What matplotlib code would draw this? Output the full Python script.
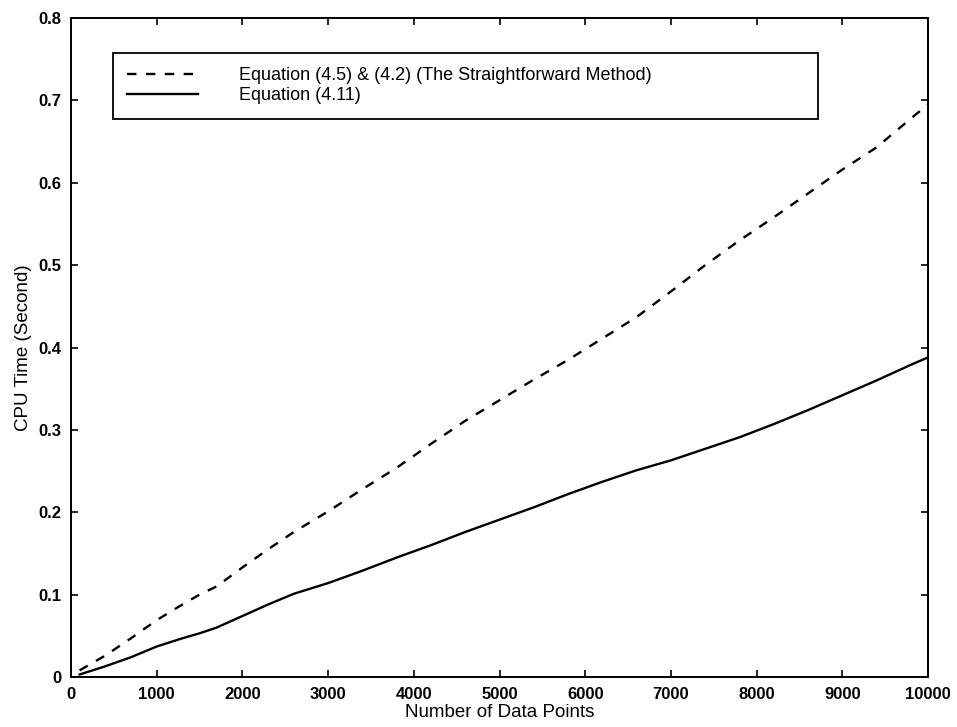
import numpy as np
import matplotlib
matplotlib.use('Agg')
import matplotlib.pyplot as plt

plt.rcParams['font.family'] = ['Liberation Sans', 'DejaVu Sans']

# number of data points used in each timing run
n_points = [100, 400, 700, 1000, 1300, 1500, 1700, 2000, 2300, 2600, 3000,
            3400, 3800, 4200, 4600, 5000, 5400, 5800, 6200, 6600, 7000,
            7400, 7800, 8200, 8600, 9000, 9400, 9800, 10000]

# CPU time (s), straightforward method, eq (4.5) & (4.2)
t_straight = [0.008, 0.026, 0.047, 0.069, 0.088, 0.100, 0.110, 0.133, 0.155,
              0.176, 0.201, 0.228, 0.254, 0.283, 0.311, 0.336, 0.361, 0.385,
              0.411, 0.437, 0.468, 0.500, 0.530, 0.558, 0.587, 0.616, 0.643,
              0.678, 0.695]

# CPU time (s), eq (4.11)
t_eq411 = [0.003, 0.013, 0.024, 0.037, 0.047, 0.053, 0.060, 0.074, 0.088,
           0.101, 0.114, 0.129, 0.145, 0.160, 0.176, 0.191, 0.206, 0.222,
           0.237, 0.251, 0.263, 0.277, 0.291, 0.307, 0.324, 0.342, 0.360,
           0.379, 0.388]

label_straight = 'Equation (4.5) & (4.2) (The Straightforward Method)'
label_eq411 = 'Equation (4.11)'

xticks = np.arange(0, 10001, 1000)
yticks = np.arange(0, 0.81, 0.1)

fig = plt.figure(figsize=(9.57, 7.27), dpi=100)
ax = fig.add_axes([0.0742, 0.0688, 0.8955, 0.9064])

ax.plot(n_points, t_straight, color='black', lw=1.7, ls='--', dashes=(4, 4),
        label=label_straight)
ax.plot(n_points, t_eq411, color='black', lw=1.7, label=label_eq411)

ax.set_xlim(0, 10000)
ax.set_ylim(0, 0.8)
ax.set_xticks(xticks)
ax.set_yticks(yticks)
ax.set_xticklabels([str(v) for v in xticks])
ax.set_yticklabels(['0'] + ['%.1f' % v for v in yticks[1:]])

ax.tick_params(direction='in', length=5, width=1.2, top=True, right=True,
               labelsize=12, pad=7)
for lab in ax.get_xticklabels() + ax.get_yticklabels():
    lab.set_fontweight('bold')
for sp in ax.spines.values():
    sp.set_linewidth(1.4)

ax.set_xlabel('Number of Data Points', fontsize=13.5, labelpad=2)
ax.set_ylabel('CPU Time (Second)', fontsize=13.5)
ax.yaxis.set_label_coords(-0.045, 0.5)

leg = ax.legend(loc='upper left', bbox_to_anchor=(0.049, 0.845, 0.823, 0.102),
                mode='expand', fontsize=13, handlelength=3.9,
                handletextpad=2.3, borderpad=0.8, labelspacing=0.15,
                fancybox=False, framealpha=1, edgecolor='black',
                borderaxespad=0)
leg.get_frame().set_linewidth(1.3)

fig.savefig('out.png', dpi=100)
